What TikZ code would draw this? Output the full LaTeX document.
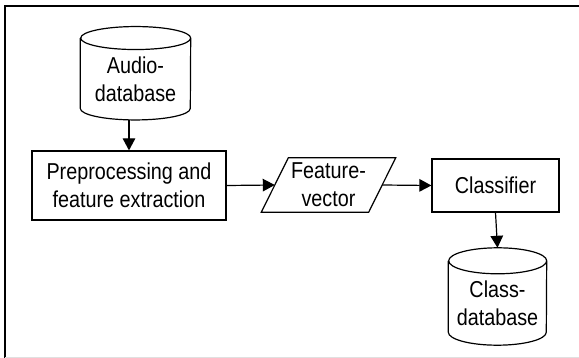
\documentclass[tikz,border=0pt]{standalone}
\usepackage{fontspec}
\setmainfont{Liberation Sans}[FakeStretch=0.86]
\usetikzlibrary{arrows.meta}

\begin{document}
\begin{tikzpicture}[x=1pt,y=-1pt,
  lbl/.style={align=center, inner sep=0pt, font=\fontsize{23}{27.6}\selectfont},
  box/.style={lbl, draw, line width=1.2pt},
  shapeline/.style={line width=1.2pt, line join=miter},
  arr/.style={line width=1.2pt, -{Triangle[length=12pt,width=12.5pt]}}]
  \useasboundingbox (0,0) rectangle (579,358);

  % outer frame
  \draw[line width=1.8pt] (579,6) -- (5,6) -- (5,358);
  \draw[line width=0.8pt, black!12] (5,357.2) -- (579,357.2);

  % process boxes
  \node[box, minimum width=194pt, minimum height=69pt] (prep) at (129,185.5)
    {Preprocessing and\\feature extraction};
  \node[box, minimum width=127pt, minimum height=53pt] (cls) at (495.5,185.5)
    {Classifier};

  % feature vector (parallelogram)
  \node[lbl, minimum width=107pt, minimum height=54pt] (fv) at (328.5,185)
    {Feature-\\vector};
  \draw[shapeline] ([xshift=13.5pt]fv.north west) -- ([xshift=13.5pt]fv.north east)
    -- ([xshift=-13.5pt]fv.south east) -- ([xshift=-13.5pt]fv.south west) -- cycle;

  % databases (cylinders); node spans from top ellipse centre to the bottom
  \node[lbl, minimum width=110pt, minimum height=81.5pt] (audio) at (135.5,79)
    {Audio-\\database};
  \draw[shapeline] (audio.north west) -- ([yshift=11.5pt]audio.south west)
    arc[start angle=180, end angle=360, x radius=55pt, y radius=11.5pt]
    -- (audio.north east)
    arc[start angle=0, end angle=360, x radius=55pt, y radius=11.5pt];

  \node[lbl, minimum width=98pt, minimum height=84pt] (clsdb) at (497.5,303)
    {Class-\\database};
  \draw[shapeline] (clsdb.north west) -- ([yshift=13pt]clsdb.south west)
    arc[start angle=180, end angle=360, x radius=49pt, y radius=13pt]
    -- (clsdb.north east)
    arc[start angle=0, end angle=360, x radius=49pt, y radius=13pt];

  % connectors
  \draw[arr] (prep.north |- audio.south) -- (prep.north);
  \draw[arr] (prep.east) -- (fv.west);
  \draw[arr] (fv.east) -- (cls.west);
  \draw[arr] (cls.south) -- ([yshift=13pt]clsdb.north);
\end{tikzpicture}
\end{document}
